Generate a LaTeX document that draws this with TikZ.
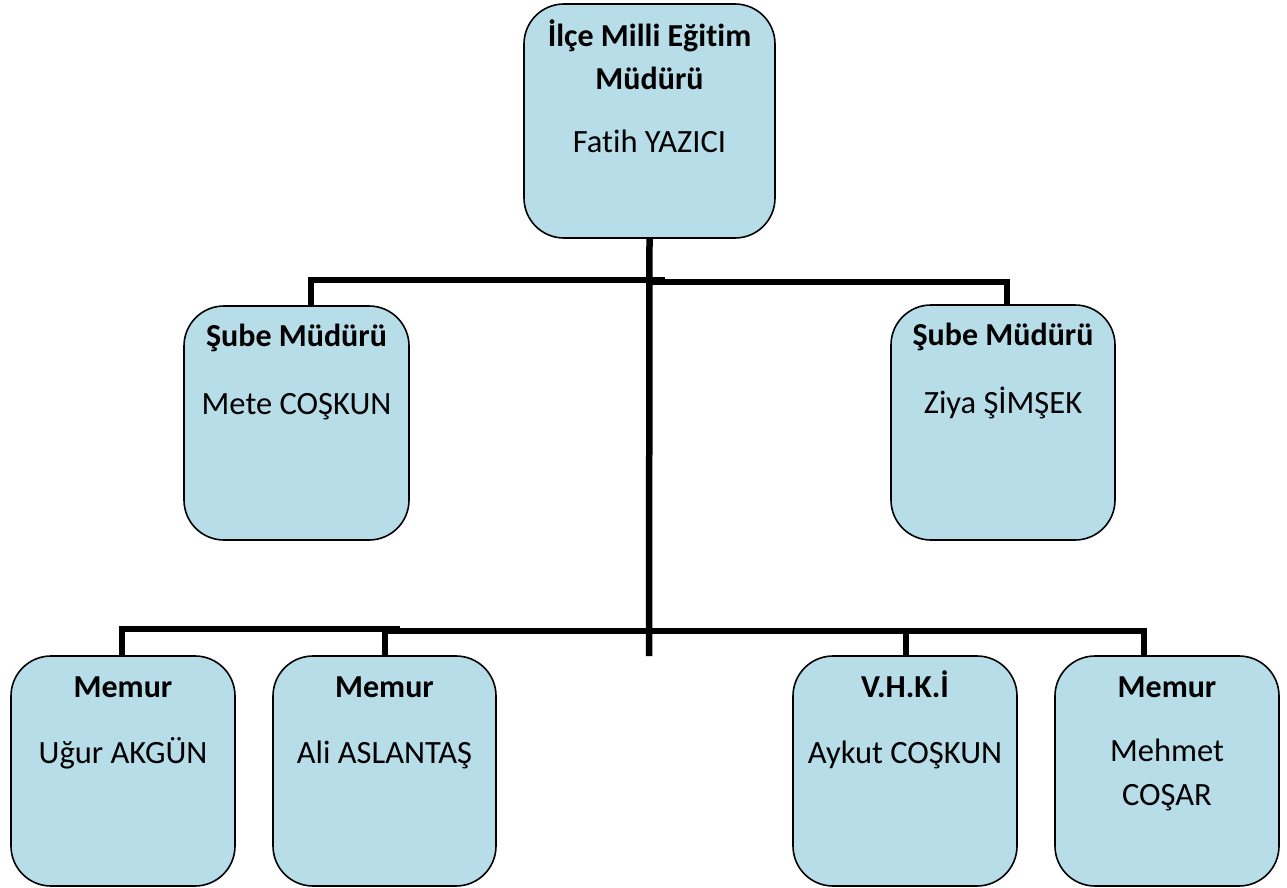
\documentclass[tikz,border=0pt]{standalone}
\usepackage{fontspec}
\setmainfont{Carlito}[Ligatures=NoCommon]
\begin{document}
\begin{tikzpicture}[x=1pt,y=-1pt,
  box/.style={draw=black,line width=1.6pt,fill=boxfill,rounded corners=40pt,inner sep=0pt},
  conn/.style={draw=black,line width=6.5pt,line join=miter,line cap=butt},
  ttl/.style={anchor=base,inner sep=0pt,font=\fontsize{32}{38}\selectfont\bfseries},
  nm/.style={anchor=base,inner sep=0pt,font=\fontsize{32.5}{38}\selectfont}]
\definecolor{boxfill}{HTML}{B7DEE8}
\useasboundingbox (0,0) rectangle (1287,888);
% boxes
\node[box,minimum width=251pt,minimum height=234pt] (top) at (649.5,121) {};
\node[box,minimum width=225pt,minimum height=234pt] (sl) at (296.5,423) {};
\node[box,minimum width=224pt,minimum height=235pt] (sr) at (1003,422.5) {};
\node[box,minimum width=224pt,minimum height=230pt] (b1) at (123,771) {};
\node[box,minimum width=223pt,minimum height=230pt] (b2) at (384.5,771) {};
\node[box,minimum width=224pt,minimum height=230pt] (b3) at (905,771) {};
\node[box,minimum width=224pt,minimum height=230pt] (b4) at (1167,771) {};
% junction coordinates
\coordinate (tend) at (649,656);
\coordinate (hA) at (311,280);
\coordinate (hAe) at (665,280);
\coordinate (hBs) at (649,282);
\coordinate (hB) at (1007,282);
\coordinate (c1) at (122,629);
\coordinate (c1e) at (400,629);
\coordinate (c2s) at (385,631);
\coordinate (c3) at (906,631);
\coordinate (c4) at (1144,631);
% connectors
\draw[conn] (top.south) -- (tend);
\draw[conn] (hA |- sl.north) -- (hA) -- (hAe);
\draw[conn] (hBs) -- (hB) -- (hB |- sr.north);
\draw[conn] (c1 |- b1.north) -- (c1) -- (c1e);
\draw[conn] (c2s |- b2.north) -- (c2s) -- (c4) -- (c4 |- b4.north);
\draw[conn] (c3) -- (c3 |- b3.north);
% texts
\node[ttl] (t1) at (649.5,47) {İlçe Milli Eğitim};
\node[ttl] (t2) at (649.5,90) {Müdürü};
\node[nm] (t3) at (649.5,152) {Fatih YAZICI};
\node[ttl] (s1) at (296.5,346) {Şube Müdürü};
\node[nm] (s2) at (296.5,414) {Mete COŞKUN};
\node[ttl] (r1) at (1003,345) {Şube Müdürü};
\node[nm] (r2) at (1003,413) {Ziya ŞİMŞEK};
\node[ttl] (m1) at (123,697) {Memur};
\node[nm] (n1) at (123,763) {Uğur AKGÜN};
\node[ttl] (m2) at (384.5,697) {Memur};
\node[nm] (n2) at (384.5,763) {Ali ASLANTAŞ};
\node[ttl] (m3) at (905,697) {V.H.K.İ};
\node[nm] (n3) at (905,763) {Aykut COŞKUN};
\node[ttl] (m4) at (1167,697) {Memur};
\node[nm] (n4) at (1167,761) {Mehmet};
\node[nm] (n4b) at (1167,805) {COŞAR};
\end{tikzpicture}
\end{document}
